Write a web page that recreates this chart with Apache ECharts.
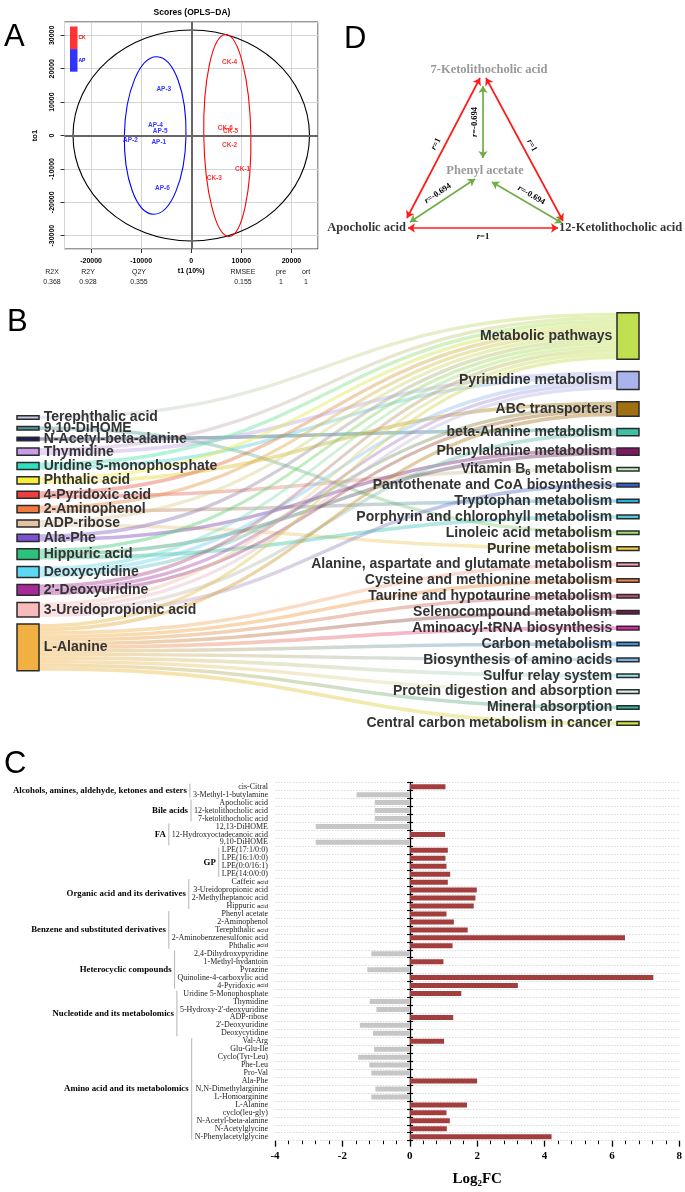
<!DOCTYPE html>
<html><head><meta charset="utf-8">
<script src="https://cdn.jsdelivr.net/npm/echarts@6/dist/echarts.min.js"></script>
<style>html,body{margin:0;padding:0;background:#fff}#c{width:685px;height:1192px}</style>
</head><body><div id="c"></div>
<script>
// ================= DATA =================
// Panel A: OPLS-DA scores
const apLabels = ['AP-1','AP-2','AP-3','AP-4','AP-5','AP-6'];
const apT1  = [-6480,-12140,-5480,-7140,-6200,-5740];
const apTo1 = [-2000,-1300,14000,3000,1300,-15900];
const ckLabels = ['CK-1','CK-2','CK-3','CK-4','CK-5','CK-6'];
const ckT1  = [10260,7660,4600,7660,7860,6800];
const ckTo1 = [-10200,-3000,-12900,22000,1200,2100];
// ellipses: [centre t1, centre to1, semi-axis t1, semi-axis to1]
const ellipseAll = [0,0,23600,31600];
const ellipseAP  = [-7200,0,6150,23600];
const ellipseCK  = [7200,0,4700,30250];
const modelStatNames  = ['R2X','R2Y','Q2Y','RMSEE','pre','ort'];
const modelStatValues = ['0.368','0.928','0.355','0.155','1','1'];

// Panel B: sankey
const leftNodes = ['Terephthalic acid','9,10-DiHOME','N-Acetyl-beta-alanine','Thymidine','Uridine 5-monophosphate','Phthalic acid','4-Pyridoxic acid','2-Aminophenol','ADP-ribose','Ala-Phe','Hippuric acid','Deoxycytidine',"2'-Deoxyuridine",'3-Ureidopropionic acid','L-Alanine'];
const rightNodes = ['Metabolic pathways','Pyrimidine metabolism','ABC transporters','beta-Alanine metabolism','Phenylalanine metabolism','Vitamin B6 metabolism','Pantothenate and CoA biosynthesis','Tryptophan metabolism','Porphyrin and chlorophyll metabolism','Linoleic acid metabolism','Purine metabolism','Alanine, aspartate and glutamate metabolism','Cysteine and methionine metabolism','Taurine and hypotaurine metabolism','Selenocompound metabolism','Aminoacyl-tRNA biosynthesis','Carbon metabolism','Biosynthesis of amino acids','Sulfur relay system','Protein digestion and absorption','Mineral absorption','Central carbon metabolism in cancer'];
const sankeyLinks = [
 ['Terephthalic acid','Metabolic pathways',1],
 ['9,10-DiHOME','Linoleic acid metabolism',1],
 ['N-Acetyl-beta-alanine','beta-Alanine metabolism',1],
 ['Thymidine','Metabolic pathways',1],['Thymidine','Pyrimidine metabolism',1],
 ['Uridine 5-monophosphate','Metabolic pathways',1],['Uridine 5-monophosphate','Pyrimidine metabolism',1],
 ['Phthalic acid','Metabolic pathways',1],['Phthalic acid','ABC transporters',1],
 ['4-Pyridoxic acid','Metabolic pathways',1],['4-Pyridoxic acid','Vitamin B6 metabolism',1],
 ['2-Aminophenol','Metabolic pathways',1],['2-Aminophenol','Tryptophan metabolism',1],
 ['ADP-ribose','Metabolic pathways',1],['ADP-ribose','Purine metabolism',1],
 ['Ala-Phe','Metabolic pathways',1],['Ala-Phe','Phenylalanine metabolism',1],
 ['Hippuric acid','Metabolic pathways',1],['Hippuric acid','Phenylalanine metabolism',1],['Hippuric acid','Porphyrin and chlorophyll metabolism',1],
 ['Deoxycytidine','Metabolic pathways',1],['Deoxycytidine','Pyrimidine metabolism',1],['Deoxycytidine','ABC transporters',1],
 ["2'-Deoxyuridine",'Metabolic pathways',1],["2'-Deoxyuridine",'Pyrimidine metabolism',1],["2'-Deoxyuridine",'ABC transporters',1],
 ['3-Ureidopropionic acid','Metabolic pathways',1],['3-Ureidopropionic acid','Pyrimidine metabolism',1],['3-Ureidopropionic acid','beta-Alanine metabolism',1],['3-Ureidopropionic acid','Pantothenate and CoA biosynthesis',1],
 ['L-Alanine','Metabolic pathways',1],['L-Alanine','ABC transporters',1],['L-Alanine','Alanine, aspartate and glutamate metabolism',1],['L-Alanine','Cysteine and methionine metabolism',1],['L-Alanine','Taurine and hypotaurine metabolism',1],['L-Alanine','Selenocompound metabolism',1],['L-Alanine','Aminoacyl-tRNA biosynthesis',1],['L-Alanine','Carbon metabolism',1],['L-Alanine','Biosynthesis of amino acids',1],['L-Alanine','Sulfur relay system',1],['L-Alanine','Protein digestion and absorption',1],['L-Alanine','Mineral absorption',1],['L-Alanine','Central carbon metabolism in cancer',1]
];

// Panel C: log2FC bars
const cLabels = ['cis-Citral','3-Methyl-1-butylamine','Apocholic acid','12-ketolithocholic acid','7-ketolithocholic acid','12,13-DiHOME','12-Hydroxyoctadecanoic acid','9,10-DiHOME','LPE(17:1/0:0)','LPE(16:1/0:0)','LPE(0:0/16:1)','LPE(14:0/0:0)','Caffeic acid','3-Ureidopropionic acid','2-Methylheptanoic acid','Hippuric acid','Phenyl acetate','2-Aminophenol','Terephthalic acid','2-Aminobenzenesulfonic acid','Phthalic acid','2,4-Dihydroxypyridine','1-Methyl-hydantoin','Pyrazine','Quinoline-4-carboxylic acid','4-Pyridoxic acid','Uridine 5-Monophosphate','Thymidine',"5-Hydroxy-2'-deoxyuridine",'ADP-ribose',"2'-Deoxyuridine",'Deoxycytidine','Val-Arg','Glu-Glu-Ile','Cyclo(Tyr-Leu)','Phe-Leu','Pro-Val','Ala-Phe','N,N-Dimethylarginine','L-Homoarginine','L-Alanine','cyclo(leu-gly)','N-Acetyl-beta-alanine','N-Acetylglycine','N-Phenylacetylglycine'];
const cValues = [1.06,-1.58,-1.04,-1.04,-1.04,-2.79,1.05,-2.79,1.13,1.06,1.09,1.2,1.13,1.99,1.95,1.9,1.09,1.31,1.72,6.39,1.27,-1.14,1.0,-1.26,7.23,3.21,1.53,-1.19,-0.99,1.29,-1.48,-1.09,1.02,-1.06,-1.53,-1.2,-1.14,2.0,-1.02,-1.14,1.7,1.09,1.19,1.1,4.21];
const cGroups = [
 ['Alcohols, amines, aldehyde, ketones and esters',0,1],
 ['Bile acids',2,4],
 ['FA',5,7],
 ['GP',8,11],
 ['Organic acid and its derivatives',12,15],
 ['Benzene and substituted derivatives',16,20],
 ['Heterocyclic compounds',21,25],
 ['Nucleotide and its metabolomics',26,31],
 ['Amino acid and its metabolomics',32,44]
];

// Panel D: correlation network
const dNodeNames = ['7-Ketolithocholic acid','Phenyl acetate','Apocholic acid','12-Ketolithocholic acid'];
const dEdges = [[2,0,1],[0,3,1],[2,3,1],[1,0,-0.694],[1,2,-0.694],[1,3,-0.694]];

// ================= STYLE / LAYOUT =================
const SANS = '"Liberation Sans", Arial, sans-serif';
const SERIF = '"Liberation Serif", "Times New Roman", serif';
const nodeColors = {
 'Terephthalic acid':'#c3c8e6','9,10-DiHOME':'#4f98a6','N-Acetyl-beta-alanine':'#1c1c5c','Thymidine':'#c89ae8',
 'Uridine 5-monophosphate':'#2fe0c0','Phthalic acid':'#f5ef3c','4-Pyridoxic acid':'#ef3d3d','2-Aminophenol':'#ef7b3e',
 'ADP-ribose':'#e4c3a0','Ala-Phe':'#7b52d2','Hippuric acid':'#2dc27a','Deoxycytidine':'#5cd8f4',"2'-Deoxyuridine":'#a82a98',
 '3-Ureidopropionic acid':'#f8baba','L-Alanine':'#f0b142',
 'Metabolic pathways':'#c1e04f','Pyrimidine metabolism':'#aab4ec','ABC transporters':'#9e7012','beta-Alanine metabolism':'#3fbfa6',
 'Phenylalanine metabolism':'#7e1860','Vitamin B6 metabolism':'#c2f0c0','Pantothenate and CoA biosynthesis':'#3060d0',
 'Tryptophan metabolism':'#22b0e0','Porphyrin and chlorophyll metabolism':'#52c8e0','Linoleic acid metabolism':'#a2e070',
 'Purine metabolism':'#f0d040','Alanine, aspartate and glutamate metabolism':'#f2a4b2','Cysteine and methionine metabolism':'#f08244',
 'Taurine and hypotaurine metabolism':'#c24a72','Selenocompound metabolism':'#6e1a50','Aminoacyl-tRNA biosynthesis':'#e022a2',
 'Carbon metabolism':'#3292e2','Biosynthesis of amino acids':'#72b2e2','Sulfur relay system':'#92e2f0',
 'Protein digestion and absorption':'#d2f2e2','Mineral absorption':'#32b2a2','Central carbon metabolism in cancer':'#d2e242'
};
const smallAcid = new Set(['Caffeic acid','Hippuric acid','Terephthalic acid','Phthalic acid','4-Pyridoxic acid']);

// sankey layout
const SK = {left:17, top:312.7, width:622, height:412.5, nodeGap:12.3, leftTop:103, leftGap:7.2};
const valOf = {};
sankeyLinks.forEach(l => { valOf[l[0]] = (valOf[l[0]]||0) + l[2]; valOf[l[1]] = (valOf[l[1]]||0) + l[2]; });
const sumL = leftNodes.reduce((a,n)=>a+valOf[n],0), sumR = rightNodes.reduce((a,n)=>a+valOf[n],0);
const ky = Math.min((SK.height-(leftNodes.length-1)*SK.nodeGap)/sumL, (SK.height-(rightNodes.length-1)*SK.nodeGap)/sumR);
const sankeyNodes = [];
let yCur = SK.leftTop;
leftNodes.forEach(n => { sankeyNodes.push({name:n, depth:0, localY:yCur/SK.height, itemStyle:{color:nodeColors[n]}}); yCur += valOf[n]*ky + SK.leftGap; });
rightNodes.forEach(n => sankeyNodes.push({name:n, depth:1, itemStyle:{color:nodeColors[n]}, label:{position:'left'}}));

// panel C layout
const CG = {left:275, top:782.7, width:405, height:358, xMin:-4, xMax:8};
const zeroOffset = -(0 - CG.xMin) / (CG.xMax - CG.xMin) * CG.width;

// panel D layout (grid units = px inside the panel box)
const dLayout = {
 text: [[189,50,'center','#808080'],[185,151,'center','#808080'],[106,208,'right','#000'],[259,208,'left','#000']],
 ends: [[[107,198],[180,58]],[[186,58],[263,201]],[[108,208],[258,208]],[[183,138],[183,66]],[[175,159],[110,202]],[[192,162],[262,203]]]
};

// text measuring for panel C brackets
const mctx = document.createElement('canvas').getContext('2d');
const cLabelSize = 8;
function textW(s){ mctx.font = cLabelSize + 'px "Liberation Serif"'; return mctx.measureText(s).width; }

// ================= OPTION =================
function ellipseItem(color, tilt){
  return function(params, api){
    const c = api.coord([api.value(0), api.value(1)]);
    const sz = api.size([api.value(2), api.value(3)]);
    return {type:'ellipse', shape:{cx:c[0], cy:c[1], rx:sz[0], ry:sz[1]}, rotation:tilt, originX:c[0], originY:c[1],
      style:{fill:null, stroke:color, lineWidth:1.1}};
  };
}
function bracketItem(params, api){
  const g = cGroups[params.dataIndex];
  const s = api.value(1), e = api.value(2);
  const band = api.size([0,1])[1];
  const p0 = api.coord([CG.xMin, s]), p1 = api.coord([CG.xMin, e]);
  const yTop = p0[1] - band/2 + 1, yBot = p1[1] + band/2 - 1;
  let maxW = 0;
  for (let i = s; i <= e; i++) maxW = Math.max(maxW, textW(cLabels[i]));
  const bx = p0[0] - 7 - maxW - 3;
  return {type:'group', children:[
    {type:'line', shape:{x1:bx, y1:yTop, x2:bx, y2:yBot}, style:{stroke:'#b4b4b4', lineWidth:1}},
    {type:'text', style:{text:g[0], x:bx-3, y:(yTop+yBot)/2, align:'right', verticalAlign:'middle',
      fontFamily:'Liberation Serif', fontWeight:'bold', fontSize:8.8, fill:'#000'}}
  ]};
}

const statGraphics = [];
const statX = [52,88,139,243,281,306];
modelStatNames.forEach((n,i) => {
  statGraphics.push({type:'text', x:statX[i], y:272, style:{text:n, align:'center', verticalAlign:'middle', fontFamily:'Liberation Sans', fontSize:7, fill:'#222'}});
  statGraphics.push({type:'text', x:statX[i], y:282, style:{text:modelStatValues[i], align:'center', verticalAlign:'middle', fontFamily:'Liberation Sans', fontSize:7, fill:'#222'}});
});
function letter(t, x, y){ return {type:'text', x:x, y:y, style:{text:t, align:'left', verticalAlign:'middle', fontFamily:'Liberation Sans', fontSize:31, fill:'#000'}}; }

const plainNum = v => String(v);

const option = {
  animation:false,
  backgroundColor:'#fff',
  graphic:[
    letter('A',4,37), letter('B',7,322), letter('C',4,764), letter('D',344,39),
    {type:'text', x:192, y:13, style:{text:'Scores (OPLS\u2212DA)', align:'center', verticalAlign:'middle', fontFamily:'Liberation Sans', fontWeight:'bold', fontSize:8.5, fill:'#000'}}
  ].concat(statGraphics),
  legend:{
    data:[{name:'CK', textStyle:{color:'#ff0000'}},{name:'AP', textStyle:{color:'#0000ff'}}],
    left:70, top:26.5, orient:'vertical', itemGap:0, itemWidth:7.5, itemHeight:22.6, icon:'rect',
    padding:0, selectedMode:false, textStyle:{fontSize:5, fontWeight:'bold', fontFamily:SANS, padding:[0,0,0,-4]}
  },
  grid:[
    {left:64.5, top:22, width:253.5, height:227, show:true, borderColor:'#333', borderWidth:1, backgroundColor:'transparent'},
    {left:CG.left, top:CG.top, width:CG.width, height:CG.height},
    {left:300, top:20, width:385, height:220}
  ],
  xAxis:[
    {gridIndex:0, type:'value', min:-25300, max:25300, splitNumber:5,
     axisLine:{show:false, onZero:false}, axisTick:{show:true, length:4, lineStyle:{color:'#333'}},
     axisLabel:{fontFamily:SANS, fontWeight:'bold', fontSize:7, color:'#000', margin:9, showMinLabel:false, showMaxLabel:false, formatter:plainNum},
     splitLine:{lineStyle:{color:'#d4d4d4', width:1}},
     name:'t1 (10%)', nameLocation:'middle', nameGap:19, nameTextStyle:{fontFamily:SANS, fontWeight:'bold', fontSize:7, color:'#000'}},
    {gridIndex:1, type:'value', min:CG.xMin, max:CG.xMax, interval:2,
     axisLine:{onZero:false, lineStyle:{color:'#000', width:1.3}},
     axisTick:{show:true, length:6, lineStyle:{color:'#000', width:1.3}},
     minorTick:{show:true, splitNumber:5, length:3.5, lineStyle:{color:'#000', width:1}},
     axisLabel:{fontFamily:SERIF, fontWeight:'bold', fontSize:11, color:'#000', margin:10},
     splitLine:{show:false},
     name:'{b|Log}{s|2}{b|FC}', nameLocation:'middle', nameGap:30,
     nameTextStyle:{rich:{b:{fontFamily:SERIF, fontWeight:'bold', fontSize:15, color:'#000'}, s:{fontFamily:SERIF, fontWeight:'bold', fontSize:9, color:'#000', padding:[8,0,0,0]}}}},
    {gridIndex:2, type:'value', min:0, max:385, show:false}
  ],
  yAxis:[
    {gridIndex:0, type:'value', min:-34000, max:34000, splitNumber:5,
     axisLine:{show:false, onZero:false}, axisTick:{show:true, length:4, lineStyle:{color:'#333'}},
     axisLabel:{fontFamily:SANS, fontWeight:'bold', fontSize:7, color:'#000', rotate:90, margin:9, showMinLabel:false, showMaxLabel:false, formatter:plainNum},
     splitLine:{lineStyle:{color:'#d4d4d4', width:1}},
     name:'to1', nameLocation:'middle', nameGap:26, nameTextStyle:{fontFamily:SANS, fontWeight:'bold', fontSize:7.5, color:'#000'}},
    {gridIndex:1, type:'category', position:'left', inverse:true, data:cLabels,
     axisLine:{show:false, onZero:false}, axisTick:{show:false},
     axisLabel:{interval:0, fontFamily:SERIF, fontSize:cLabelSize, color:'#222', margin:7,
       formatter:v => smallAcid.has(v) ? v.replace(/ acid$/, ' {s|acid}') : v,
       rich:{s:{fontFamily:SANS, fontSize:6, color:'#222'}}},
     splitLine:{show:true, interval:0, lineStyle:{color:'#cfcfcf', type:[1.5,1.5], width:0.8}}},
    {gridIndex:1, type:'category', position:'left', inverse:true, data:cLabels,
     axisLine:{show:true, onZero:false, lineStyle:{color:'#000', width:1.3}}, offset:zeroOffset,
     axisTick:{show:true, interval:0, length:3, lineStyle:{color:'#000', width:1.2}},
     axisLabel:{show:false}, splitLine:{show:false}},
    {gridIndex:1, type:'category', position:'left', inverse:true, data:cLabels,
     axisLine:{show:false, onZero:false}, offset:zeroOffset,
     axisTick:{show:true, inside:true, interval:0, length:3, lineStyle:{color:'#000', width:1.2}},
     axisLabel:{show:false}, splitLine:{show:false}},
    {gridIndex:2, type:'value', min:0, max:220, inverse:true, show:false}
  ],
  series:[
    // ---- Panel A ----
    {type:'custom', name:'ellipses-all', xAxisIndex:0, yAxisIndex:0, renderItem:ellipseItem('#000', 0), data:[ellipseAll], silent:true, z:2},
    {type:'custom', name:'ellipse-ap', xAxisIndex:0, yAxisIndex:0, renderItem:ellipseItem('#0000ff', -0.021), data:[ellipseAP], silent:true, z:2},
    {type:'custom', name:'ellipse-ck', xAxisIndex:0, yAxisIndex:0, renderItem:ellipseItem('#ff0000', 0.017), data:[ellipseCK], silent:true, z:2},
    {type:'scatter', name:'CK', xAxisIndex:0, yAxisIndex:0, symbolSize:0, itemStyle:{color:'#ff0000'},
     data:ckT1.map((x,i)=>[x, ckTo1[i], ckLabels[i]]),
     label:{show:true, position:'inside', formatter:p=>p.data[2], color:'#ff0000', fontFamily:SANS, fontWeight:'bold', fontSize:6.5}, z:4,
     markLine:{silent:true, symbol:'none', label:{show:false}, lineStyle:{color:'#666', width:2, type:'solid', opacity:1}, data:[{xAxis:0},{yAxis:0}]}},
    {type:'scatter', name:'AP', xAxisIndex:0, yAxisIndex:0, symbolSize:0, itemStyle:{color:'#0000ff'},
     data:apT1.map((x,i)=>[x, apTo1[i], apLabels[i]]),
     label:{show:true, position:'inside', formatter:p=>p.data[2], color:'#0000ff', fontFamily:SANS, fontWeight:'bold', fontSize:6.5}, z:4},
    // ---- Panel B ----
    {type:'sankey', left:SK.left, top:SK.top, width:SK.width, height:SK.height,
     nodeWidth:22, nodeGap:SK.nodeGap, layoutIterations:0, draggable:false, nodeAlign:'justify',
     data:sankeyNodes, links:sankeyLinks.map(l=>({source:l[0], target:l[1], value:l[2]})),
     itemStyle:{borderColor:'#2a2a2a', borderWidth:1.5},
     lineStyle:{color:'gradient', opacity:0.42, curveness:0.5},
     emphasis:{disabled:true},
     label:{show:true, position:'right', distance:4, fontFamily:SANS, fontWeight:'bold', fontSize:14, color:'#333',
       formatter:p => p.name === 'Vitamin B6 metabolism' ? 'Vitamin B{sub|6} metabolism' : p.name,
       rich:{sub:{fontFamily:SANS, fontWeight:'bold', fontSize:9.5, color:'#333', padding:[6,0,0,0]}}}},
    // ---- Panel C ----
    {type:'bar', name:'log2fc', xAxisIndex:1, yAxisIndex:1, barWidth:5,
     data:cValues.map(v=>({value:v, itemStyle:{color: v > 0 ? '#a33e3e' : '#c6c6c6'}})), z:3},
    {type:'custom', name:'groups', xAxisIndex:1, yAxisIndex:1, renderItem:bracketItem, clip:false, silent:true,
     encode:{x:0, y:[1,2]}, data:cGroups.map(g=>[CG.xMin, g[1], g[2]])},
    // ---- Panel D ----
    {type:'lines', name:'corr', coordinateSystem:'cartesian2d', xAxisIndex:2, yAxisIndex:4, polyline:false,
     symbol:['arrow','arrow'], symbolSize:7, silent:true,
     data:dEdges.map((e,i)=>({coords:dLayout.ends[i], r:e[2],
        lineStyle:{color: e[2] > 0 ? '#ff1a1a' : '#6fae45', width:1.7, opacity:1},
        label: i === 2 ? {position:'insideMiddleBottom'} : undefined})),
     lineStyle:{opacity:1},
     label:{show:true, position:'middle', distance:4, formatter:p => '{i|r}=' + p.data.r,
       fontFamily:SERIF, fontWeight:'bold', fontSize:8.5, color:'#000',
       rich:{i:{fontFamily:SERIF, fontWeight:'bold', fontStyle:'italic', fontSize:8.5, color:'#000'}}}},
    {type:'scatter', name:'dnodes', xAxisIndex:2, yAxisIndex:4, symbolSize:0, silent:true,
     data:dNodeNames.map((n,i)=>({value:[dLayout.text[i][0], dLayout.text[i][1]], name:n,
        label:{align:dLayout.text[i][2], color:dLayout.text[i][3]}})),
     label:{show:true, position:[0,0], verticalAlign:'middle', formatter:p=>p.name, fontFamily:SERIF, fontWeight:'bold', fontSize:12.5}}
  ]
};
const chart = echarts.init(document.getElementById('c'), null, {renderer:'canvas', width:685, height:1192});
chart.setOption(option);
</script>
</body></html>
